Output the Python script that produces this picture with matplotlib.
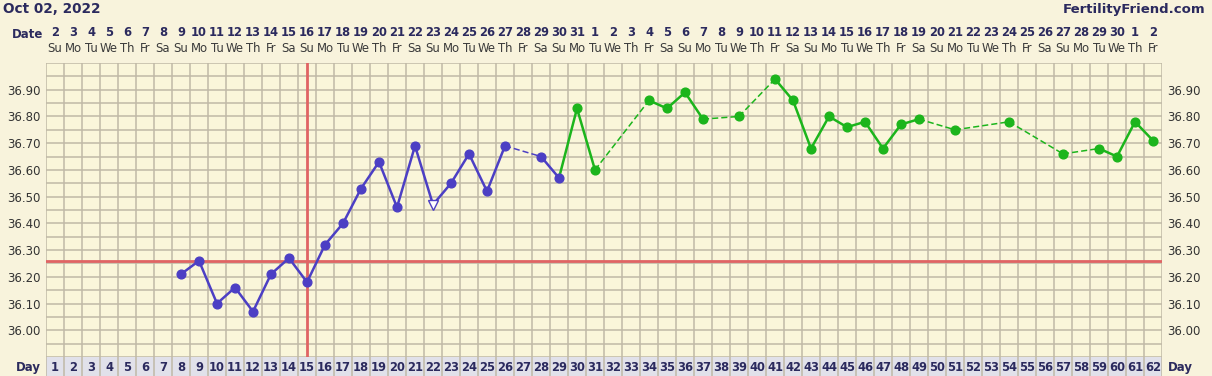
import matplotlib
matplotlib.use('agg')
import matplotlib.pyplot as plt
import matplotlib.transforms as mtransforms
import datetime
import numpy as np

# cycle data (day 1 = Oct 02, 2022)
start_date = datetime.date(2022, 10, 2)
n_days = 62
temp_days = [8, 9, 10, 11, 12, 13, 14, 15, 16, 17, 18, 19, 20, 21, 22, 23, 24, 25, 26,
             28, 29, 30, 31, 34, 35, 36, 37, 39, 41, 42, 43, 44, 45, 46, 47, 48, 49,
             51, 54, 57, 59, 60, 61, 62]
temps = [36.21, 36.26, 36.10, 36.16, 36.07, 36.21, 36.27, 36.18, 36.32, 36.40, 36.53,
         36.63, 36.46, 36.69, 36.47, 36.55, 36.66, 36.52, 36.69,
         36.65, 36.57, 36.83, 36.60, 36.86, 36.83, 36.89, 36.79, 36.80, 36.94, 36.86,
         36.68, 36.80, 36.76, 36.78, 36.68, 36.77, 36.79,
         36.75, 36.78, 36.66, 36.68, 36.65, 36.78, 36.71]
discarded_days = [22]
ovulation_day = 15
coverline = 36.26
luteal_start = 30
ytick_vals = [36.00, 36.10, 36.20, 36.30, 36.40, 36.50, 36.60, 36.70, 36.80, 36.90]

BG = '#f8f3dc'
PLOT_BG = '#faf6da'
GRID = '#c0b9a7'
NAVY = '#2b2a5e'
RED = '#e06464'
BLUE = '#4c3fc4'
GREEN = '#1cb51c'

W, H = 1212, 376
fig = plt.figure(figsize=(W / 100, H / 100), dpi=100, facecolor=BG)
plt.rcParams['font.family'] = ['DejaVu Sans']


def frac(x0, y0, x1, y1):
    return [x0 / W, 1 - y1 / H, (x1 - x0) / W, (y1 - y0) / H]


ax = fig.add_axes(frac(46, 63, 1162, 357))
ax.set_facecolor(PLOT_BG)
ax.set_xlim(0.5, n_days + 0.5)
ax.set_ylim(35.90, 37.00)

# grid
for d in range(n_days + 1):
    ax.axvline(d + 0.5, color=GRID, lw=1.1, zorder=1)
for k in range(23):
    ax.axhline(35.90 + 0.05 * k, color=GRID, lw=1.1, zorder=1)
for s in ax.spines.values():
    s.set_visible(False)
ax.set_xticks([])
ax.set_yticks(ytick_vals)
ax.set_yticklabels([f'{v:.2f}' for v in ytick_vals])
ax.tick_params(axis='y', length=0, pad=4, labelsize=8.5, labelcolor='#333333',
               labelleft=True, labelright=True)

# coverline and ovulation
ax.axhline(coverline, color=RED, lw=2.0, zorder=2)
ax.axvline(ovulation_day, color=RED, lw=2.0, zorder=2)

# temperature line
def phase_color(day):
    return GREEN if day >= luteal_start else BLUE

for i in range(1, len(temp_days)):
    d0, d1 = temp_days[i - 1], temp_days[i]
    if d1 - d0 > 1:
        ax.plot([d0, d1], [temps[i - 1], temps[i]], color=phase_color(d1),
                lw=1.1, zorder=3, dashes=(4, 2))
    else:
        ax.plot([d0, d1], [temps[i - 1], temps[i]], color=phase_color(d1),
                lw=1.8, zorder=3)

for d, t in zip(temp_days, temps):
    if d in discarded_days:
        ax.plot(d, t, marker='v', ms=7, mfc='white', mec=phase_color(d),
                mew=1.0, zorder=4)
    else:
        ax.plot(d, t, marker='o', ms=6.3, color=phase_color(d), zorder=4)

# day row at the bottom
dax = fig.add_axes(frac(46, 357, 1162, 376))
dax.set_facecolor('#e1e1ea')
dax.set_xlim(0.5, n_days + 0.5)
dax.set_ylim(0, 1)
for d in range(n_days + 1):
    dax.axvline(d + 0.5, color=GRID, lw=1.1)
for s in dax.spines.values():
    s.set_visible(False)
dax.set_xticks([])
dax.set_yticks([])
for d in range(1, n_days + 1):
    dax.text(d, 0.45, str(d), ha='center', va='center', fontsize=8.3,
             fontweight='bold', color=NAVY)
fig.text(28 / W, 1 - 367 / H, 'Day', ha='center', va='center', fontsize=8.5,
         fontweight='bold', color=NAVY)
fig.text(1180 / W, 1 - 367 / H, 'Day', ha='center', va='center', fontsize=8.5,
         fontweight='bold', color=NAVY)

# date header
trans = mtransforms.blended_transform_factory(ax.transData, fig.transFigure)
wd = ['Mo', 'Tu', 'We', 'Th', 'Fr', 'Sa', 'Su']
for d in range(1, n_days + 1):
    date = start_date + datetime.timedelta(days=d - 1)
    ax.text(d, 1 - 33 / H, str(date.day), transform=trans, ha='center',
            va='center', fontsize=8.3, fontweight='bold', color=NAVY, clip_on=False)
    ax.text(d, 1 - 49 / H, wd[date.weekday()], transform=trans, ha='center',
            va='center', fontsize=8.4, color='#3a3a3a', clip_on=False)
fig.text(28 / W, 1 - 35 / H, 'Date', ha='center', va='center', fontsize=8.5,
         fontweight='bold', color=NAVY)

fig.text(3 / W, 1 - 9 / H, 'Oct 02, 2022', ha='left', va='center', fontsize=9.8,
         fontweight='bold', color=NAVY)
fig.text(1205 / W, 1 - 9 / H, 'FertilityFriend.com', ha='right', va='center',
         fontsize=9.5, fontweight='bold', color=NAVY)

fig.savefig('out.png', dpi=100, facecolor=BG)
